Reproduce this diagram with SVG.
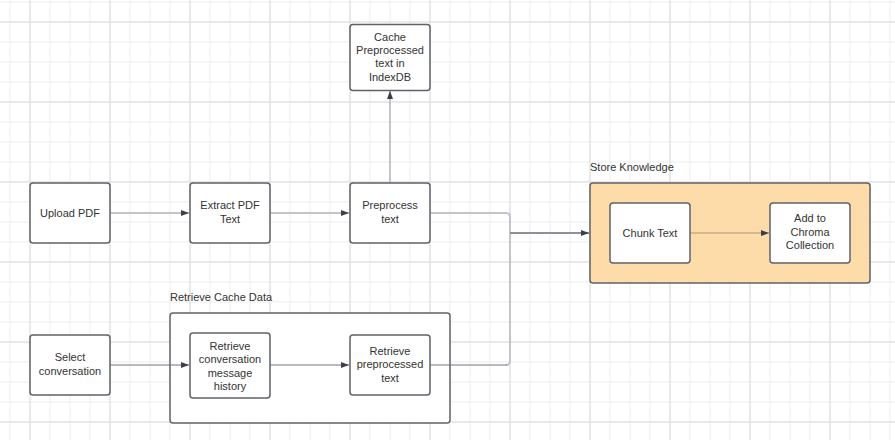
<svg xmlns="http://www.w3.org/2000/svg" width="895" height="440" viewBox="0 0 895 440">
<defs>
<pattern id="minor" x="9.5" y="1.5" width="20" height="20" patternUnits="userSpaceOnUse">
<rect x="0" y="0" width="1" height="20" fill="#ececec"/>
<rect x="0" y="0" width="20" height="1" fill="#ececec"/>
</pattern>
<pattern id="major" x="29.5" y="21.5" width="80" height="80" patternUnits="userSpaceOnUse">
<rect x="0" y="0" width="1" height="80" fill="#dcdcdc"/>
<rect x="0" y="0" width="80" height="1" fill="#dcdcdc"/>
</pattern>
<marker id="arr" viewBox="0 0 8 6" refX="8" refY="3" markerWidth="8" markerHeight="6" markerUnits="userSpaceOnUse" orient="auto">
<path d="M0 0 L8 3 L0 6 Z" fill="#3b4048"/>
</marker>
</defs>
<style>
.box{fill:#ffffff;stroke:#5f6268;stroke-width:1.5}
.grp{fill:#ffffff;stroke:#5f6268;stroke-width:1.5}
.orange{fill:#fddca9;stroke:#5f6268;stroke-width:1.5}
.t{font-family:"Liberation Sans",Arial,sans-serif;font-size:11px;fill:#333333;text-anchor:middle}
.lbl{font-family:"Liberation Sans",Arial,sans-serif;font-size:11px;fill:#333333}
.c1{fill:none;stroke:#c3c5ca;stroke-width:2}
.c2{fill:none;stroke:#70747b;stroke-width:1}
.c3{fill:none;stroke:#8d9097;stroke-width:2}
.c4{fill:none;stroke:#c9ac86;stroke-width:1.5}
</style>
<rect width="895" height="440" fill="#ffffff"/>
<rect width="895" height="440" fill="url(#minor)"/>
<rect width="895" height="440" fill="url(#major)"/>

<g id="store-knowledge">
<rect class="orange" x="590" y="183" width="280" height="100" rx="3"/>
<text class="lbl" x="590" y="170.5">Store Knowledge</text>
</g>
<g id="retrieve-cache-data">
<rect class="grp" x="170" y="313" width="280" height="110" rx="3"/>
<text class="lbl" x="170" y="300.5">Retrieve Cache Data</text>
</g>

<g id="connectors">
<path class="c1" d="M110 213 H189" marker-end="url(#arr)"/>
<path class="c1" d="M270 213 H349" marker-end="url(#arr)"/>
<path class="c1" d="M390 183 V91" marker-end="url(#arr)"/>
<path class="c1" d="M430 213 H506 Q510 213 510 217 V361 Q510 365 506 365"/>
<path class="c3" d="M510 233 H589" marker-end="url(#arr)"/>
<path class="c4" d="M690 233 H769" marker-end="url(#arr)"/>
<path class="c2" d="M110 365 H189" marker-end="url(#arr)"/>
<path class="c2" d="M270 365 H349" marker-end="url(#arr)"/>
<path class="c2" d="M430 365 H507"/>
</g>

<g id="upload-pdf">
<rect class="box" x="30" y="183" width="80" height="60" rx="3"/>
<text class="t" x="70" y="217">Upload PDF</text>
</g>
<g id="extract-pdf-text">
<rect class="box" x="190" y="183" width="80" height="60" rx="3"/>
<text class="t" x="230" y="209">Extract PDF</text>
<text class="t" x="230" y="222.5">Text</text>
</g>
<g id="preprocess-text">
<rect class="box" x="350" y="183" width="80" height="60" rx="3"/>
<text class="t" x="390" y="209">Preprocess</text>
<text class="t" x="390" y="222.5">text</text>
</g>
<g id="cache-preprocessed">
<rect class="box" x="350" y="24.5" width="80" height="66" rx="3"/>
<text class="t" x="390" y="40.7">Cache</text>
<text class="t" x="390" y="54">Preprocessed</text>
<text class="t" x="390" y="67.3">text in</text>
<text class="t" x="390" y="80.7">IndexDB</text>
</g>
<g id="chunk-text">
<rect class="box" x="610" y="203" width="80" height="60" rx="3"/>
<text class="t" x="650" y="236.5">Chunk Text</text>
</g>
<g id="add-to-chroma">
<rect class="box" x="770" y="203" width="80" height="60" rx="3"/>
<text class="t" x="810" y="222">Add to</text>
<text class="t" x="810" y="235.5">Chroma</text>
<text class="t" x="810" y="249">Collection</text>
</g>
<g id="select-conversation">
<rect class="box" x="30" y="335" width="80" height="60" rx="3"/>
<text class="t" x="70" y="361.3">Select</text>
<text class="t" x="70" y="374.7">conversation</text>
</g>
<g id="retrieve-conversation-history">
<rect class="box" x="190" y="333" width="80" height="65" rx="3"/>
<text class="t" x="230" y="350">Retrieve</text>
<text class="t" x="230" y="363.3">conversation</text>
<text class="t" x="230" y="376.7">message</text>
<text class="t" x="230" y="390">history</text>
</g>
<g id="retrieve-preprocessed-text">
<rect class="box" x="350" y="335" width="80" height="60" rx="3"/>
<text class="t" x="390" y="355">Retrieve</text>
<text class="t" x="390" y="368.3">preprocessed</text>
<text class="t" x="390" y="381.7">text</text>
</g>
</svg>
